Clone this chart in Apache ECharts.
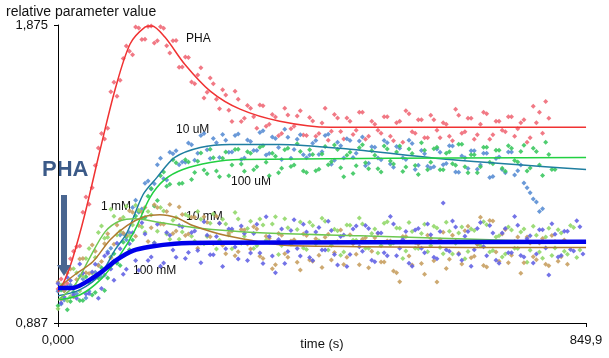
<!DOCTYPE html>
<html><head><meta charset="utf-8">
<script src="https://cdn.jsdelivr.net/npm/echarts@6/dist/echarts.min.js"></script>
<style>html,body{margin:0;padding:0;background:#fff}#c{width:609px;height:358px}</style>
</head><body><div id="c"></div>
<script>
// sample times (s), two interleaved acquisition grids
const times = [0,10,20,30,40,50,60,70,80,90,100,110,120,130,140,150,160,170,180,190,200,210,220,230,240,250,260,270,280,290,300,310,320,330,340,350,360,370,380,390,400,410,420,430,440,450,460,470,480,490,500,510,520,530,540,550,560,570,580,590,600,610,620,630,640,650,660,670,680,690,700,710,720,730,740,750,760,770,780,790,800,810,820,830,840];
const times2 = [5,15,25,35,45,55,65,75,85,95,105,115,125,135,145,155,165,175,185,195,205,215,225,235,245,255,265,275,285,295,305,315,325,335,345,355,365,375,385,395,405,415,425,435,445,455,465,475,485,495,505,515,525,535,545,555,565,575,585,595,605,615,625,635,645,655,665,675,685,695,705,715,725,735,745,755,765,775,785,795,805,815,825,835,845];

// measured points
const phaPts = [1.000,1.011,1.100,1.140,1.254,1.281,1.409,1.515,1.533,1.685,1.692,1.805,1.776,1.865,1.828,1.872,1.823,1.864,1.782,1.824,1.736,1.767,1.680,1.733,1.652,1.680,1.597,1.643,1.555,1.629,1.566,1.599,1.533,1.607,1.546,1.570,1.515,1.577,1.539,1.591,1.509,1.557,1.515,1.599,1.523,1.567,1.497,1.556,1.526,1.586,1.506,1.546,1.516,1.571,1.491,1.556,1.591,1.521,1.561,1.501,1.576,1.526,1.551,1.506,1.596,1.516,1.566,1.496,1.546,1.581,1.511,1.556,1.521,1.571,1.531,1.561,1.501,1.551,1.516,1.566];
const phaPts2 = [1.033,1.018,1.125,1.142,1.305,1.335,1.467,1.497,1.654,1.639,1.764,1.788,1.868,1.827,1.870,1.815,1.869,1.806,1.823,1.735,1.769,1.686,1.709,1.633,1.699,1.629,1.660,1.592,1.655,1.555,1.608,1.571,1.610,1.539,1.578,1.508,1.599,1.531,1.573,1.510,1.568,1.506,1.550,1.493,1.578,1.522,1.567,1.512,1.586,1.496,1.556,1.526,1.571,1.506,1.551,1.486,1.581,1.516,1.561,1.501,1.561,1.501,1.546,1.491,1.576,1.521,1.566,1.511,1.586,1.496,1.556,1.526,1.571,1.506,1.551,1.486,1.606,1.586,1.621];
const uM10Pts = [0.992,0.963,1.013,0.984,1.033,0.992,1.055,1.039,1.123,1.093,1.179,1.163,1.270,1.254,1.350,1.331,1.412,1.365,1.453,1.458,1.421,1.484,1.427,1.509,1.461,1.499,1.436,1.493,1.454,1.514,1.434,1.489,1.459,1.524,1.449,1.499,1.429,1.503,1.462,1.511,1.435,1.483,1.446,1.509,1.413,1.486,1.434,1.492,1.450,1.504,1.417,1.470,1.428,1.485,1.403,1.466,1.429,1.482,1.410,1.448,1.401,1.464,1.412,1.475,1.388,1.441,1.399,1.458,1.411,1.450,1.373,1.437,1.385,1.454,1.392,1.351,1.319,1.288,1.266];
const uM10Pts2 = [0.950,1.006,0.976,1.043,0.970,1.036,1.079,1.046,1.135,1.088,1.183,1.186,1.294,1.265,1.358,1.349,1.433,1.361,1.448,1.412,1.420,1.478,1.450,1.515,1.432,1.485,1.512,1.453,1.509,1.429,1.494,1.459,1.519,1.444,1.504,1.469,1.529,1.433,1.496,1.445,1.444,1.492,1.455,1.513,1.427,1.475,1.498,1.436,1.490,1.408,1.471,1.434,1.492,1.414,1.472,1.435,1.493,1.396,1.459,1.407,1.405,1.453,1.416,1.474,1.387,1.435,1.458,1.397,1.450,1.369,1.432,1.396,1.454,1.378,1.411,1.335,1.298,1.257];
const uM100Pts = [0.944,0.994,0.958,1.008,0.962,1.023,0.988,1.070,1.036,1.117,1.078,1.173,1.162,1.258,1.237,1.333,1.293,1.388,1.347,1.418,1.350,1.421,1.386,1.451,1.382,1.435,1.372,1.454,1.411,1.463,1.390,1.450,1.405,1.475,1.375,1.440,1.400,1.466,1.411,1.456,1.386,1.446,1.397,1.472,1.422,1.462,1.372,1.453,1.408,1.478,1.398,1.443,1.388,1.464,1.414,1.474,1.404,1.449,1.379,1.460,1.420,1.470,1.395,1.455,1.410,1.480,1.385,1.445,1.405,1.470,1.415,1.460,1.390,1.466,1.421,1.476,1.401,1.456,1.376,1.446,1.396];
const uM100Pts2 = [0.996,0.931,0.990,0.962,1.040,0.980,1.036,0.995,1.106,1.085,1.155,1.130,1.242,1.235,1.307,1.275,1.375,1.340,1.428,1.349,1.428,1.363,1.423,1.394,1.463,1.391,1.433,1.375,1.462,1.414,1.455,1.395,1.470,1.420,1.450,1.385,1.461,1.406,1.481,1.391,1.461,1.392,1.447,1.412,1.477,1.402,1.443,1.383,1.468,1.418,1.458,1.398,1.474,1.424,1.454,1.389,1.464,1.409,1.485,1.395,1.465,1.395,1.450,1.415,1.480,1.405,1.445,1.385,1.470,1.420,1.460,1.400,1.475,1.426,1.456,1.391,1.466,1.411,1.486,1.396];
const mM1Pts = [0.934,1.002,0.975,1.054,1.042,1.134,1.104,1.209,1.171,1.241,1.191,1.274,1.212,1.261,1.188,1.245,1.191,1.258,1.165,1.237,1.189,1.241,1.158,1.231,1.174,1.248,1.161,1.215,1.133,1.232,1.175,1.224,1.143,1.212,1.155,1.239,1.144,1.203,1.157,1.222,1.131,1.210,1.160,1.224,1.144,1.193,1.122,1.211,1.161,1.215,1.135,1.199,1.143,1.223,1.152,1.201,1.126,1.190,1.134,1.214,1.143,1.202,1.117,1.191,1.151,1.205,1.124,1.194,1.143,1.213,1.127,1.176,1.116,1.195,1.134,1.199,1.128,1.178,1.102,1.201,1.136,1.185,1.115,1.204,1.129];
const mM1Pts2 = [1.013,0.961,1.067,0.993,1.101,1.052,1.187,1.168,1.264,1.179,1.238,1.176,1.277,1.205,1.257,1.153,1.270,1.182,1.228,1.165,1.247,1.175,1.257,1.150,1.218,1.132,1.231,1.179,1.253,1.151,1.200,1.134,1.232,1.161,1.215,1.114,1.233,1.148,1.197,1.136,1.221,1.150,1.234,1.129,1.198,1.112,1.212,1.161,1.235,1.135,1.184,1.119,1.218,1.147,1.202,1.101,1.220,1.135,1.184,1.123,1.208,1.137,1.221,1.116,1.185,1.100,1.199,1.148,1.223,1.122,1.172,1.106,1.205,1.135,1.189,1.088,1.208,1.122,1.172,1.111,1.196,1.125,1.210,1.104];
const mM10Pts = [1.023,0.994,1.066,1.031,1.101,1.051,1.125,1.091,1.183,1.148,1.231,1.178,1.254,1.210,1.270,1.203,1.270,1.214,1.280,1.192,1.247,1.182,1.238,1.152,1.221,1.150,1.218,1.117,1.192,1.123,1.195,1.132,1.199,1.101,1.168,1.080,1.178,1.105,1.163,1.063,1.177,1.092,1.112,1.171,1.096,1.156,1.081,1.180,1.115,1.165,1.070,1.170,1.089,1.159,1.059,1.024,1.174,1.079,1.149,1.049,1.168,1.023,1.188,1.098,1.158,1.083,1.208,1.108,1.238,1.073,1.225,1.092,1.197,1.112,1.172,1.087,1.152,1.097,1.167,1.077,1.157,1.107,1.082];
const mM10Pts2 = [0.966,1.053,0.974,1.099,1.054,1.146,1.078,1.150,1.103,1.212,1.185,1.259,1.175,1.255,1.157,1.279,1.215,1.257,1.184,1.272,1.177,1.238,1.135,1.239,1.173,1.241,1.145,1.185,1.110,1.197,1.149,1.206,1.108,1.175,1.067,1.184,1.117,1.159,1.088,1.182,1.096,1.166,1.071,1.181,1.121,1.195,1.105,1.150,1.080,1.170,1.125,1.184,1.089,1.159,1.054,1.174,1.109,1.154,1.084,1.178,1.093,1.163,1.068,1.178,1.118,1.193,1.103,1.148,1.078,1.227,1.122,1.182,1.087,1.157,1.052,1.172,1.107,1.152,1.082,1.177,1.092,1.162];
const mM100Pts = [1.018,0.973,1.028,0.969,1.052,0.985,1.082,1.001,1.118,1.029,1.133,1.065,1.186,1.062,1.182,1.106,1.214,1.086,1.178,1.105,1.206,1.121,1.192,1.087,1.178,1.113,1.218,1.133,1.199,1.099,1.184,1.119,1.214,1.084,1.174,1.054,1.199,1.124,1.229,1.109,1.189,1.094,1.204,1.129,1.194,1.079,1.179,1.114,1.209,1.125,1.200,1.090,1.185,1.110,1.215,1.135,1.190,1.075,1.200,1.120,1.180,1.100,1.285,1.125,1.205,1.095,1.190,1.130,1.220,1.110,1.185,1.085,1.200,1.120,1.211,1.106,1.176,1.116,1.196,1.046,1.181,1.111,1.191,1.126,1.206];
const mM100Pts2 = [0.953,1.038,0.981,1.083,0.983,1.056,0.969,1.109,1.066,1.151,1.049,1.150,1.094,1.219,1.094,1.152,1.075,1.187,1.129,1.210,1.101,1.187,1.127,1.223,1.113,1.174,1.074,1.199,1.139,1.209,1.094,1.184,1.119,1.239,1.109,1.164,1.084,1.194,1.134,1.214,1.104,1.189,1.129,1.224,1.114,1.174,1.074,1.199,1.140,1.210,1.095,1.185,1.120,1.240,1.110,1.165,1.085,1.195,1.135,1.215,1.105,1.190,1.130,1.225,1.115,1.175,1.075,1.200,1.140,1.210,1.095,1.185,1.120,1.240,1.111,1.166,1.086,1.196,1.136,1.216,1.106,1.191,1.131,1.226,1.116];

// fitted curves
const phaFitT = [0,11,23,43,68,92,116,140,151,172,204,245,293,357,438,850];
const phaFitV = [0.990,1.030,1.097,1.246,1.463,1.662,1.812,1.868,1.872,1.835,1.745,1.656,1.596,1.556,1.536,1.536];
const uM10FitT = [0,35,68,92,111,137,159,188,229,277,357,470,631,850];
const uM10FitV = [0.977,0.997,1.047,1.130,1.186,1.313,1.369,1.436,1.469,1.479,1.479,1.463,1.429,1.396];
const uM100FitT = [0,35,68,100,124,148,172,201,245,293,850];
const uM100FitV = [0.964,0.980,1.030,1.113,1.196,1.303,1.363,1.396,1.419,1.429,1.436];
const mM1FitT = [0,27,51,76,100,124,164,220,325,486,850];
const mM1FitV = [0.964,1.013,1.103,1.190,1.226,1.233,1.220,1.203,1.186,1.176,1.153];
const mM10FitT = [0,27,56,84,111,140,164,191,217,272,378,850];
const mM10FitV = [1.003,1.047,1.090,1.163,1.210,1.240,1.246,1.236,1.210,1.176,1.143,1.137];
const mM100FitT = [0,23,43,68,95,121,148,188,245,850];
const mM100FitV = [1.003,1.003,1.020,1.053,1.097,1.127,1.140,1.150,1.153,1.156];

const xTicks = [0, 849.9];
const yTicks = [0.887, 1.875];
const xTickLabels = ['0,000', '849,9'];
const yTickLabels = ['0,887', '1,875'];

function pairs(ts, vs) { return vs.map((v, i) => [ts[i], v]); }

const ptsSeries = [
  [phaPts, phaPts2, '#f06a78'],
  [uM10Pts, uM10Pts2, '#5a8ed4'],
  [uM100Pts, uM100Pts2, '#3cc860'],
  [mM1Pts, mM1Pts2, '#92d86a'],
  [mM10Pts, mM10Pts2, '#c8a062'],
  [mM100Pts, mM100Pts2, '#6464e4']
].map(([a, b, c]) => ({
  type: 'scatter', data: pairs(times, a).concat(pairs(times2, b)), symbol: 'diamond', symbolSize: 5,
  itemStyle: { color: c, opacity: 0.9 }, silent: true, z: 2
}));

const fitSeries = [
  [phaFitT, phaFitV, '#f03232', 1.5],
  [uM10FitT, uM10FitV, '#1f7ea0', 1.5],
  [uM100FitT, uM100FitV, '#22d042', 1.5],
  [mM1FitT, mM1FitV, '#6cc850', 1.5],
  [mM10FitT, mM10FitV, '#b07a30', 1.5],
  [mM100FitT, mM100FitV, '#0000ea', 4.5]
].map(([ts, vs, c, w]) => ({
  type: 'line', data: pairs(ts, vs), smooth: 0.3, showSymbol: false,
  lineStyle: { color: c, width: w }, silent: true, z: 3
}));

const chart = echarts.init(document.getElementById('c'), null, { renderer: 'canvas' });
const font = 'Liberation Sans, Arial, sans-serif';
chart.setOption({
  animation: false,
  backgroundColor: '#fff',
  grid: { left: 58, right: 23, top: 25, bottom: 35, containLabel: false, outerBoundsMode: 'none' },
  xAxis: {
    type: 'value', min: 0, max: 849.9,
    name: 'time (s)', nameLocation: 'middle', nameGap: 15, nameMoveOverlap: false,
    nameTextStyle: { color: '#111', fontSize: 13, fontFamily: font },
    axisLine: { lineStyle: { color: '#000', width: 1 } },
    axisTick: { show: true, customValues: xTicks, length: 4, lineStyle: { color: '#000' } },
    axisLabel: { customValues: xTicks, color: '#111', fontSize: 13, fontFamily: font, margin: 11,
      formatter: v => xTickLabels[xTicks.indexOf(v)] || '' },
    splitLine: { show: false }
  },
  yAxis: {
    type: 'value', min: 0.887, max: 1.875,
    axisLine: { show: true, lineStyle: { color: '#000', width: 1 } },
    axisTick: { show: true, customValues: yTicks, length: 4, lineStyle: { color: '#000' } },
    axisLabel: { customValues: yTicks, color: '#111', fontSize: 13, fontFamily: font, margin: 10,
      formatter: v => yTickLabels[yTicks.indexOf(v)] || '' },
    splitLine: { show: false }
  },
  series: ptsSeries.concat(fitSeries),
  graphic: [
    { type: 'text', left: 6, top: 5, style: { text: 'relative parameter value', fill: '#111', font: '14px ' + font } },
    { type: 'text', x: 186, y: 33, style: { text: 'PHA', fill: '#111', font: '12px ' + font } },
    { type: 'text', x: 176, y: 124, style: { text: '10 uM', fill: '#111', font: '12px ' + font } },
    { type: 'text', x: 231, y: 176, style: { text: '100 uM', fill: '#111', font: '12px ' + font } },
    { type: 'text', x: 101, y: 201, style: { text: '1 mM', fill: '#111', font: '12px ' + font } },
    { type: 'text', x: 186, y: 211, style: { text: '10 mM', fill: '#111', font: '12px ' + font } },
    { type: 'text', x: 133, y: 265, style: { text: '100 mM', fill: '#111', font: '12px ' + font } },
    { type: 'text', x: 42, y: 159, style: { text: 'PHA', fill: '#3b5a88', font: 'bold 22px ' + font } },
    { type: 'rect', shape: { x: 61, y: 195, width: 6, height: 71 }, style: { fill: '#4a6690' }, z: 10 },
    { type: 'polygon', shape: { points: [[57, 265], [71, 265], [64, 276]] }, style: { fill: '#4a6690' }, z: 10 }
  ]
});
</script></body></html>
